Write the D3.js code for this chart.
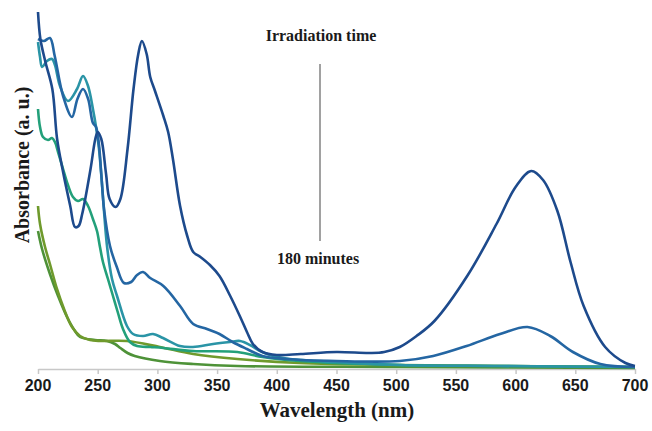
<!DOCTYPE html>
<meta charset="utf-8">
<style>
body { margin: 0; background: #fff; }
.tick-label { font-family: "Liberation Sans", Arial, sans-serif; font-weight: bold; font-size: 16px; fill: #1a1a1a; }
.title { font-family: "Liberation Serif", "Times New Roman", serif; font-weight: bold; fill: #1a1a1a; }
</style>
<svg width="652" height="431"></svg>
<script src="https://d3js.org/d3.v7.min.js"></script>
<script>

// x ticks
var xTicks = [200, 250, 300, 350, 400, 450, 500, 550, 600, 650, 700];

// spectra, [wavelength nm, absorbance a.u.]
var spec0 = [[200,3.57],[202,3.30],[206,3.08],[212,2.80],[216,2.30],[221,1.97],[227,1.63],[231,1.42],[234,1.43],
  [237,1.55],[244,2.00],[248,2.30],[250,2.37],[253,2.30],[257,1.95],[260,1.70],[265,1.62],[269,1.70],
  [275,2.20],[280,2.80],[284,3.15],[287,3.28],[291,3.15],[294,2.92],[298,2.78],[305,2.53],[309,2.37],
  [313,2.10],[319,1.63],[325,1.33],[330,1.17],[336,1.12],[344,1.04],[352,0.93],[361,0.73],[369,0.53],
  [375,0.37],[380,0.25],[388,0.17],[400,0.14],[420,0.15],[450,0.17],[478,0.16],[490,0.17],[503,0.22],
  [517,0.33],[532,0.48],[560,0.94],[584,1.45],[600,1.82],[613,1.98],[623,1.89],[635,1.58],[646,1.07],
  [657,0.63],[675,0.22],[692,0.06],[700,0.03]];

var spec1 = [[200,3.30],[205,3.28],[210,3.31],[214,3.13],[221,2.73],[228.5,2.52],[233,2.70],[237.7,2.80],
  [242,2.70],[246,2.46],[248.6,2.42],[251,2.25],[253,1.95],[255.3,1.60],[260.3,1.23],[266,1.02],
  [272,0.86],[278,0.87],[283,0.94],[288,0.97],[294,0.91],[305,0.83],[319,0.63],[330,0.45],
  [341.5,0.40],[352,0.35],[363,0.27],[375,0.20],[388,0.13],[408,0.10],[450,0.08],[503,0.08],
  [531,0.13],[559,0.23],[587,0.35],[610,0.42],[629,0.33],[648,0.17],[671,0.05],[700,0.02]];

var spec2 = [[200,3.27],[201.7,3.12],[203.4,3.02],[207.5,3.08],[211.7,3.10],[214.2,3.04],[218.4,2.83],
  [225.1,2.68],[232.7,2.80],[237.7,2.93],[241.9,2.83],[246,2.60],[248.6,2.42],[251.1,2.20],[253.6,1.85],
  [257.8,1.23],[262,0.90],[266.2,0.73],[274.5,0.43],[279.6,0.35],[288,0.33],[296.3,0.35],[304.7,0.31],
  [318.9,0.23],[329.8,0.22],[346.6,0.25],[360.8,0.27],[369.2,0.28],[377.6,0.24],[386,0.18],[397,0.13],
  [411,0.10],[450,0.07],[503,0.04],[587,0.03],[700,0.02]];

var spec3 = [[200,2.60],[201.7,2.42],[204.2,2.32],[208.4,2.29],[211.7,2.31],[214.2,2.27],[216.8,2.17],
  [221,2.00],[225.1,1.84],[229.3,1.72],[233.5,1.68],[237.7,1.70],[241.9,1.63],[246,1.50],[249.4,1.38],
  [251.9,1.22],[254.4,1.07],[258.6,0.90],[262.8,0.73],[267,0.56],[271.2,0.40],[277,0.27],[283,0.23],
  [294,0.22],[305,0.21],[330,0.18],[367,0.17],[388,0.12],[419,0.08],[503,0.04],[587,0.03],[700,0.02]];

var spec4 = [[200,1.63],[201.7,1.45],[205.9,1.22],[210,1.05],[215.9,0.80],[221.8,0.60],[228.5,0.42],
  [235.2,0.33],[243.6,0.29],[252,0.28],[274.5,0.28],[302,0.22],[330,0.15],[367,0.10],[419,0.06],
  [503,0.04],[700,0.02]];

var spec5 = [[200,1.38],[203.4,1.20],[210,0.95],[216.8,0.73],[224.3,0.52],[231,0.38],[235.2,0.32],
  [247.7,0.29],[257.8,0.28],[264.5,0.25],[269,0.21],[275,0.16],[281,0.13],[302,0.08],[330,0.05],
  [367,0.03],[503,0.02],[700,0.01]];

var colours = ["#1d4a8c", "#2466a3", "#2a94a6", "#23a07a", "#6f9a2c", "#4e9238"];
var allSpectra = [spec0, spec1, spec2, spec3, spec4, spec5];

var svg = d3.select("svg");

var x = d3.scaleLinear().domain([200, 700]).range([38, 635]);
var y = d3.scaleLinear().domain([0, 3.6]).range([369, 9]);

// x axis: faint line with small ticks below
var axis = svg.append("g").attr("transform", "translate(0,369)")
    .call(d3.axisBottom(x).tickValues(xTicks).tickSize(5).tickSizeOuter(0).tickFormat(""));
axis.select(".domain").attr("stroke", "#c8c8c8").attr("stroke-width", 1.5);
axis.selectAll(".tick line").attr("stroke", "#c8c8c8").attr("stroke-width", 1.5);

svg.append("g").selectAll("text")
    .data(xTicks)
    .enter().append("text")
    .attr("class", "tick-label")
    .attr("x", function(d) { return x(d); })
    .attr("y", 391)
    .attr("text-anchor", "middle")
    .text(function(d) { return d; });

// the spectra, oldest (navy) on top
var line = d3.line()
    .x(function(d) { return x(d[0]); })
    .y(function(d) { return y(d[1]); })
    .curve(d3.curveCatmullRom.alpha(0.5));

svg.append("g").selectAll("path")
    .data(allSpectra.slice().reverse())
    .enter().append("path")
    .attr("d", line)
    .attr("fill", "none")
    .attr("stroke", function(d, i) { return colours[allSpectra.length - 1 - i]; })
    .attr("stroke-width", 2.6)
    .attr("stroke-linejoin", "round");

// axis titles
svg.append("text")
    .attr("class", "title")
    .attr("x", 337).attr("y", 417)
    .attr("text-anchor", "middle")
    .style("font-size", "21px")
    .text("Wavelength (nm)");

svg.append("text")
    .attr("class", "title")
    .attr("transform", "translate(29,165) rotate(-90)")
    .attr("text-anchor", "middle")
    .style("font-size", "20px")
    .text("Absorbance (a. u.)");

// irradiation time marker
svg.append("text")
    .attr("class", "title")
    .attr("x", 321).attr("y", 41)
    .attr("text-anchor", "middle")
    .style("font-size", "16px")
    .text("Irradiation time");

svg.append("line")
    .attr("x1", 320).attr("x2", 320)
    .attr("y1", 64).attr("y2", 241)
    .attr("stroke", "#8a8a8a")
    .attr("stroke-width", 1.6);

svg.append("text")
    .attr("class", "title")
    .attr("x", 318).attr("y", 264)
    .attr("text-anchor", "middle")
    .style("font-size", "16px")
    .text("180 minutes");

</script>
